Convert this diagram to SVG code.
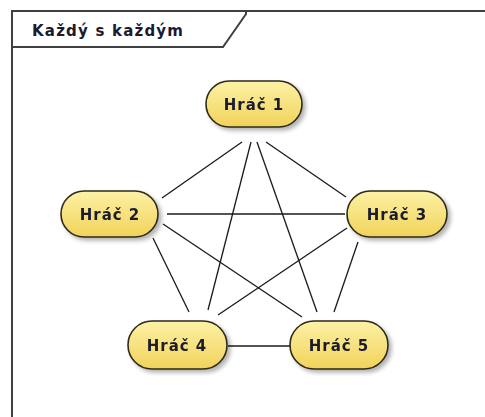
<svg xmlns="http://www.w3.org/2000/svg" width="485" height="417" viewBox="0 0 485 417">
  <defs>
    <linearGradient id="pillFill" x1="0" y1="0" x2="0" y2="1">
      <stop offset="0" stop-color="#fdf1a6"/>
      <stop offset="1" stop-color="#f1d35a"/>
    </linearGradient>
    <filter id="shadow" x="-20%" y="-20%" width="150%" height="160%">
      <feGaussianBlur in="SourceAlpha" stdDeviation="2"/>
      <feOffset dx="3" dy="3" result="blur"/>
      <feComponentTransfer><feFuncA type="linear" slope="0.3"/></feComponentTransfer>
      <feMerge><feMergeNode/><feMergeNode in="SourceGraphic"/></feMerge>
    </filter>
    <style>
      .frame { fill: none; stroke: #404040; stroke-width: 2; }
      .tab { fill: #ffffff; stroke: #404040; stroke-width: 2; }
      .title { font-family: "DejaVu Sans", "Liberation Sans", sans-serif; font-weight: bold; font-size: 15px; letter-spacing: 1.2px; fill: #1a1a2e; }
      .pill { fill: url(#pillFill); stroke: #2e2a18; stroke-width: 1.6; }
      .label { font-family: "DejaVu Sans", "Liberation Sans", sans-serif; font-weight: bold; font-size: 15px; letter-spacing: 1px; fill: #1a1a2e; text-anchor: middle; }
      .edge { stroke: #1a1a1a; stroke-width: 1.3; fill: none; }
    </style>
  </defs>

  <rect x="0" y="0" width="485" height="417" fill="#ffffff"/>

  <!-- frame with name tab -->
  <g id="frame">
    <path class="frame" d="M12,430 V11 H490"/>
    <path class="tab" d="M12,11 H246 V14 L223,47 H12 Z"/>
    <text class="title" x="32" y="36">Každý s každým</text>
  </g>

  <!-- connectors -->
  <g id="connectors">
    <line class="edge" x1="242" y1="142" x2="162" y2="198"/>
    <line class="edge" x1="251" y1="142" x2="208" y2="310"/>
    <line class="edge" x1="257" y1="142" x2="317" y2="312"/>
    <line class="edge" x1="266" y1="142" x2="346" y2="197"/>
    <line class="edge" x1="167" y1="214" x2="345" y2="214"/>
    <line class="edge" x1="153" y1="238" x2="189" y2="312"/>
    <line class="edge" x1="163" y1="224" x2="302" y2="317"/>
    <line class="edge" x1="347" y1="228" x2="218" y2="315"/>
    <line class="edge" x1="358" y1="242" x2="334" y2="312"/>
    <line class="edge" x1="228" y1="346" x2="290" y2="346"/>
  </g>

  <!-- players -->
  <g id="player1" filter="url(#shadow)">
    <rect class="pill" x="206" y="81" width="96" height="46" rx="23"/>
    <text class="label" x="254" y="110">Hráč 1</text>
  </g>
  <g id="player2" filter="url(#shadow)">
    <rect class="pill" x="61" y="191" width="97" height="46" rx="23"/>
    <text class="label" x="110" y="220">Hráč 2</text>
  </g>
  <g id="player3" filter="url(#shadow)">
    <rect class="pill" x="347" y="191" width="100" height="46" rx="23"/>
    <text class="label" x="397" y="220">Hráč 3</text>
  </g>
  <g id="player4" filter="url(#shadow)">
    <rect class="pill" x="128" y="321" width="99" height="48" rx="24"/>
    <text class="label" x="177" y="351">Hráč 4</text>
  </g>
  <g id="player5" filter="url(#shadow)">
    <rect class="pill" x="290" y="321" width="98" height="48" rx="24"/>
    <text class="label" x="339" y="351">Hráč 5</text>
  </g>
</svg>
